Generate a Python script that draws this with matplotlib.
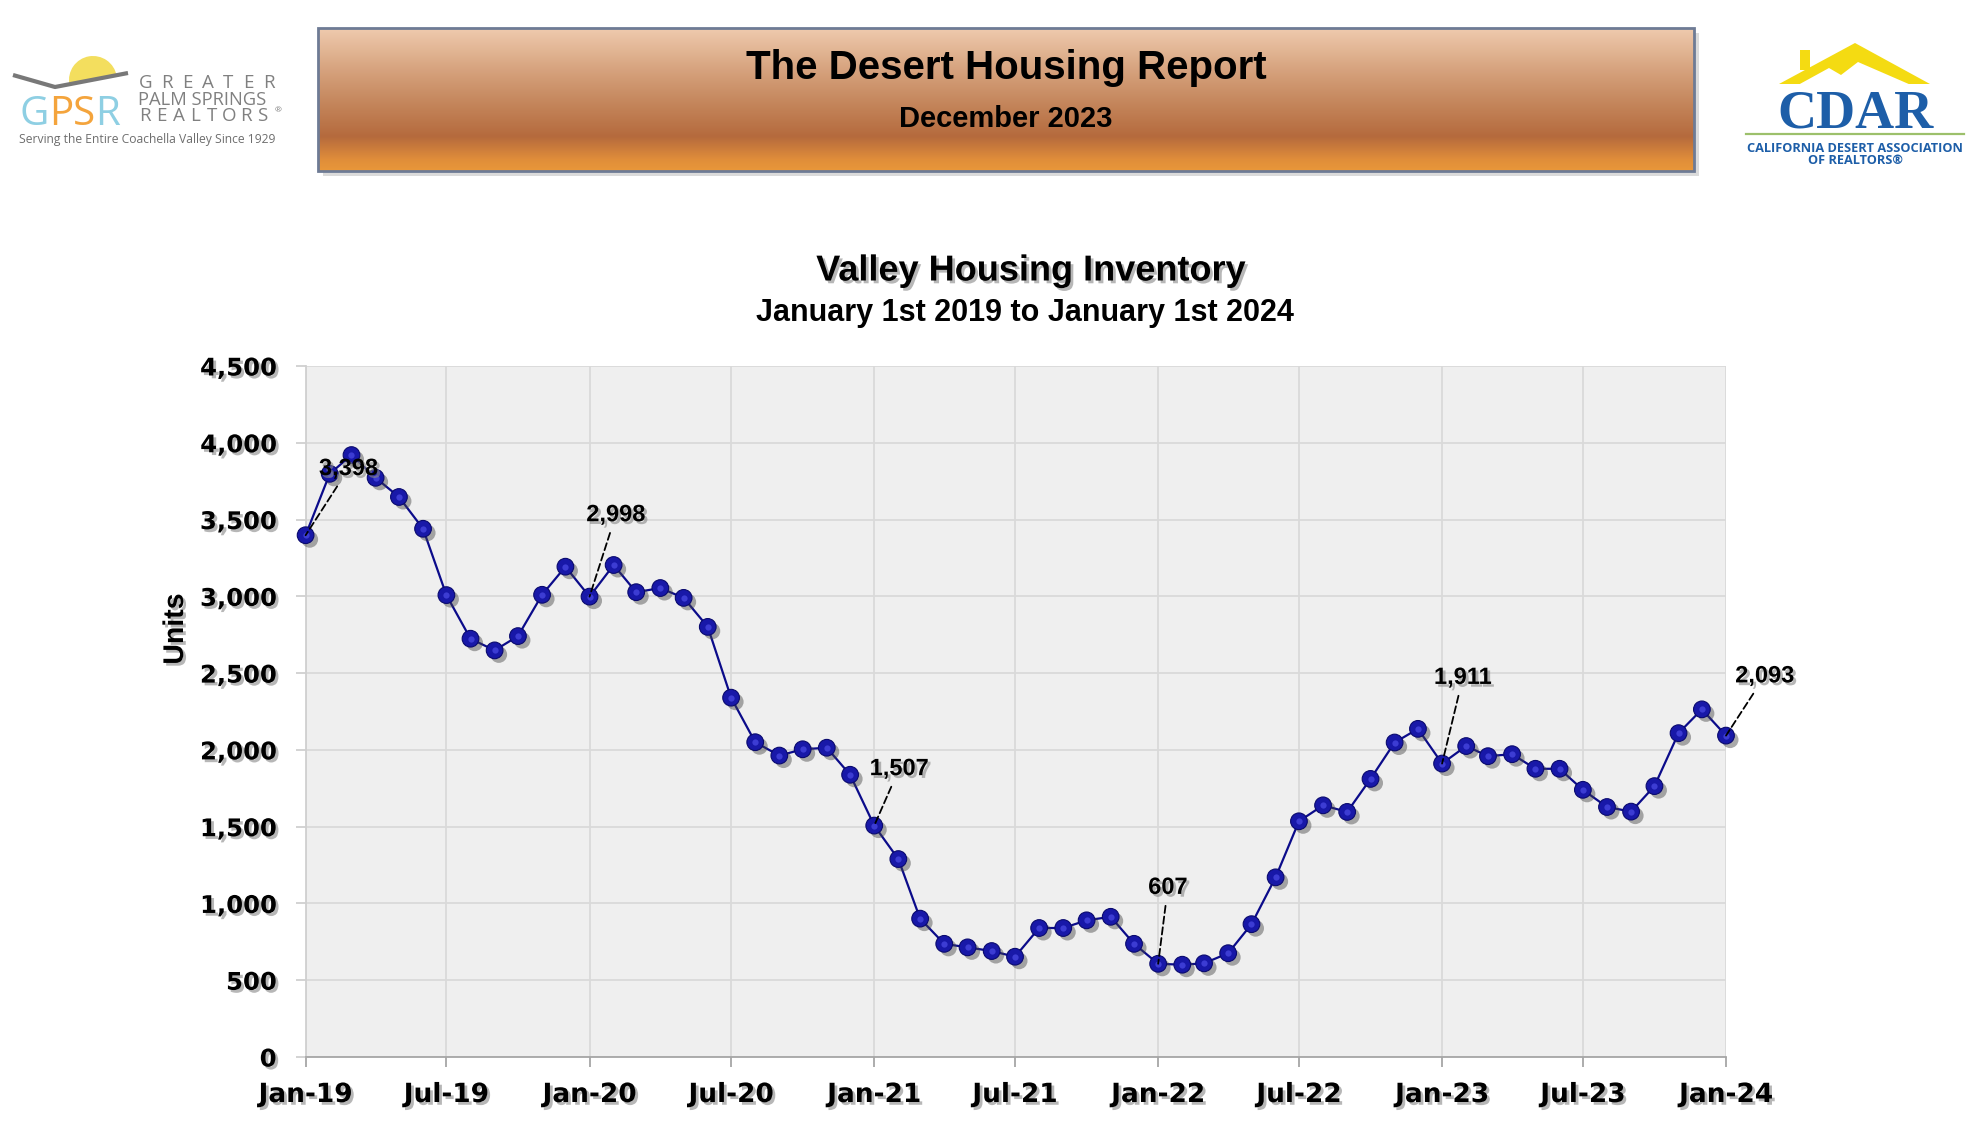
import numpy as np
import pandas as pd
import matplotlib
matplotlib.use('Agg')
import matplotlib.pyplot as plt
import matplotlib.patheffects as pe
from matplotlib.colors import LinearSegmentedColormap
from matplotlib.patches import Rectangle, Polygon, Wedge

# Valley housing inventory, monthly, Jan 2019 .. Jan 2024
months = pd.date_range('2019-01-01', '2024-01-01', freq='MS')
inventory = [
    3398, 3798, 3920, 3772, 3647, 3440, 3008, 2724, 2648, 2741, 3010, 3193,
    2998, 3204, 3027, 3054, 2990, 2801, 2340, 2050, 1963, 2004, 2014, 1838,
    1507, 1289, 901, 737, 714, 690, 653, 840, 840, 890, 913, 737,
    607, 601, 610, 676, 865, 1170, 1535, 1639, 1596, 1811, 2048, 2137,
    1911, 2025, 1959, 1972, 1877, 1877, 1740, 1628, 1598, 1764, 2109, 2264,
    2093,
]
# points that get a value label (January of each year) and their label offsets
label_idx = [0, 12, 24, 36, 48, 60]
label_offsets = [(31, 48), (19, 59), (18, 41), (7, 55), (15, 62), (28, 43)]

x_ticks = months[::6]
x_tick_labels = ['Jan-19', 'Jul-19', 'Jan-20', 'Jul-20', 'Jan-21', 'Jul-21',
                 'Jan-22', 'Jul-22', 'Jan-23', 'Jul-23', 'Jan-24']
y_ticks = list(range(0, 4501, 500))
y_tick_labels = ['0', '500', '1,000', '1,500', '2,000', '2,500',
                 '3,000', '3,500', '4,000', '4,500']

W, H = 1985, 1127
shadow = [pe.SimplePatchShadow(offset=(2, -2), shadow_rgbFace='#888888', alpha=0.6), pe.Normal()]

fig = plt.figure(figsize=(W / 100, H / 100), dpi=100)
fig.patch.set_facecolor('white')

# background layer in pixel coords for header / logos
deco = fig.add_axes([0, 0, 1, 1], zorder=-1)
deco.axis('off')

# header banner with vertical gradient
grad_cmap = LinearSegmentedColormap.from_list('banner', [
    (0.0, '#EFCBAE'), (0.27, '#D8A581'), (0.5, '#C6895F'),
    (0.76, '#B56A3D'), (0.92, '#E08D3A'), (1.0, '#E99839')])
grad = np.linspace(0, 1, 256).reshape(-1, 1)
deco.add_patch(Rectangle((323, 33), 1376, 143, facecolor='#999999', alpha=0.35, lw=0))
deco.imshow(grad, cmap=grad_cmap, extent=[318, 1694, 171, 28], aspect='auto', zorder=2)
deco.add_patch(Rectangle((318, 28), 1376, 143, fill=False, ec='#6E7B95', lw=2, zorder=3))
deco.text(1006, 68, 'The Desert Housing Report', ha='center', va='center',
          fontsize=29, fontweight='bold', family='Liberation Sans', zorder=4)
deco.text(1006, 119, 'December 2023', ha='center', va='center',
          fontsize=21, fontweight='bold', family='Liberation Sans', zorder=4)

# GPSR logo (left)
grey_txt = '#808080'
deco.add_patch(Wedge((93, 80), 24, 170, 350, facecolor='#F3DE5E', lw=0, zorder=2))
deco.plot([13, 55, 128], [75, 87, 73], color='#787878', lw=3, solid_capstyle='butt', zorder=3)
for letter, lx, col in [('G', 34, '#8ECFE3'), ('P', 61, '#F4A43C'),
                        ('S', 84, '#F4A43C'), ('R', 107.5, '#8ECFE3')]:
    deco.text(lx, 125, letter, ha='center', va='baseline', fontsize=29,
              family='Open Sans', color=col)
# letter-spaced wordmark lines
for k, ch in enumerate('GREATER'):
    deco.text(146 + k * 20.5, 88, ch, ha='center', va='baseline', fontsize=13.5,
              family='Open Sans', color=grey_txt)
deco.text(138, 105, 'PALM SPRINGS', ha='left', va='baseline', fontsize=13.2,
          family='Open Sans', color=grey_txt)
for k, ch in enumerate('REALTORS'):
    deco.text(145 + k * 16.8, 121, ch, ha='center', va='baseline', fontsize=13.5,
              family='Open Sans', color=grey_txt)
deco.text(278, 112, '\u00ae', ha='center', va='baseline', fontsize=6, family='Open Sans', color=grey_txt)
deco.text(19, 143, 'Serving the Entire Coachella Valley Since 1929', ha='left', va='baseline',
          fontsize=8.7, family='Open Sans', color='#6E6E6E')

# CDAR logo (right)
deco.add_patch(Polygon([(1779, 84), (1855, 43), (1930, 84)], closed=True,
                       facecolor='#F4DB12', lw=0, zorder=2))
deco.add_patch(Rectangle((1800, 50), 10, 20, facecolor='#F4DB12', lw=0, zorder=2))
deco.add_patch(Polygon([(1798, 85), (1829, 68), (1841, 75), (1858, 62), (1911, 85)],
                       closed=True, facecolor='white', lw=0, zorder=3))
deco.text(1855, 128, 'CDAR', ha='center', va='baseline', fontsize=39, fontweight='bold',
          family='Liberation Serif', color='#1D5EA8', zorder=4)
deco.plot([1746, 1964], [134, 134], color='#9CC06B', lw=1.6, zorder=3)
deco.text(1855, 152, 'CALIFORNIA DESERT ASSOCIATION', ha='center', va='baseline',
          fontsize=9.2, fontweight='bold', family='Open Sans', color='#1D5EA8')
deco.text(1855, 164, 'OF REALTORS\u00ae', ha='center', va='baseline',
          fontsize=9.2, fontweight='bold', family='Open Sans', color='#1D5EA8')

# chart titles
deco.text(1031, 271, 'Valley Housing Inventory', ha='center', va='center', fontsize=26,
          fontweight='bold', family='Liberation Sans', path_effects=shadow)
deco.text(1025, 313, 'January 1st 2019 to January 1st 2024', ha='center', va='center',
          fontsize=22, fontweight='bold', family='Liberation Sans')
deco.text(176, 629, 'Units', ha='center', va='center', rotation=90, fontsize=20.5,
          fontweight='bold', family='Liberation Sans', path_effects=shadow)

deco.set_xlim(0, W)
deco.set_ylim(H, 0)

# main chart
ax = fig.add_axes([305.6 / W, 1 - 1057 / H, (1726 - 305.6) / W, (1057 - 366) / H])
ax.set_facecolor('#EFEFEF')
ax.plot(months, inventory, color='#0B0B8A', lw=1.6, zorder=3, clip_on=False)
ax.plot(months, inventory, ls='none', marker='o', markersize=12,
        markerfacecolor='#1818A8', markeredgecolor='#0A0A6E', markeredgewidth=0.8,
        zorder=4, clip_on=False,
        path_effects=[pe.SimplePatchShadow(offset=(3, -3), shadow_rgbFace='#444444', alpha=0.45),
                      pe.Normal()])
ax.plot(months, inventory, ls='none', marker='o', markersize=4.5,
        markerfacecolor='#4C4CE6', markeredgewidth=0, alpha=0.7, zorder=5, clip_on=False)

for i, off in zip(label_idx, label_offsets):
    ax.annotate(f'{inventory[i]:,}', xy=(months[i], inventory[i]), xytext=off,
                textcoords='offset points', ha='center', va='center',
                fontsize=17, fontweight='bold', family='Liberation Sans', zorder=6,
                path_effects=shadow,
                arrowprops=dict(arrowstyle='-', color='black', lw=1.3, ls=(0, (4, 2)),
                                shrinkA=3, shrinkB=0))

ax.set_xlim(months[0], months[-1])
ax.set_ylim(0, 4500)
ax.set_xticks(x_ticks, x_tick_labels)
ax.set_yticks(y_ticks, y_tick_labels)
ax.grid(True, color='#D9D9D9', lw=1.3)
ax.set_axisbelow(True)
for s in ['top', 'right']:
    ax.spines[s].set_visible(False)
ax.spines['left'].set_color('#D0D0D0')
ax.spines['left'].set_linewidth(1.3)
ax.spines['bottom'].set_color('#A6A6A6')
ax.spines['bottom'].set_linewidth(1.3)
ax.tick_params(axis='y', length=7, width=1.3, color='#D0D0D0', pad=14)
ax.tick_params(axis='x', length=7, width=1.3, color='#A6A6A6', pad=11)
for lbl in ax.get_yticklabels():
    lbl.set_fontsize(17.5)
    lbl.set_fontweight('bold')
    lbl.set_path_effects(shadow)
for lbl in ax.get_xticklabels():
    lbl.set_fontsize(19)
    lbl.set_fontweight('bold')
    lbl.set_path_effects(shadow)

fig.savefig('out.png', dpi=100, facecolor='white')
